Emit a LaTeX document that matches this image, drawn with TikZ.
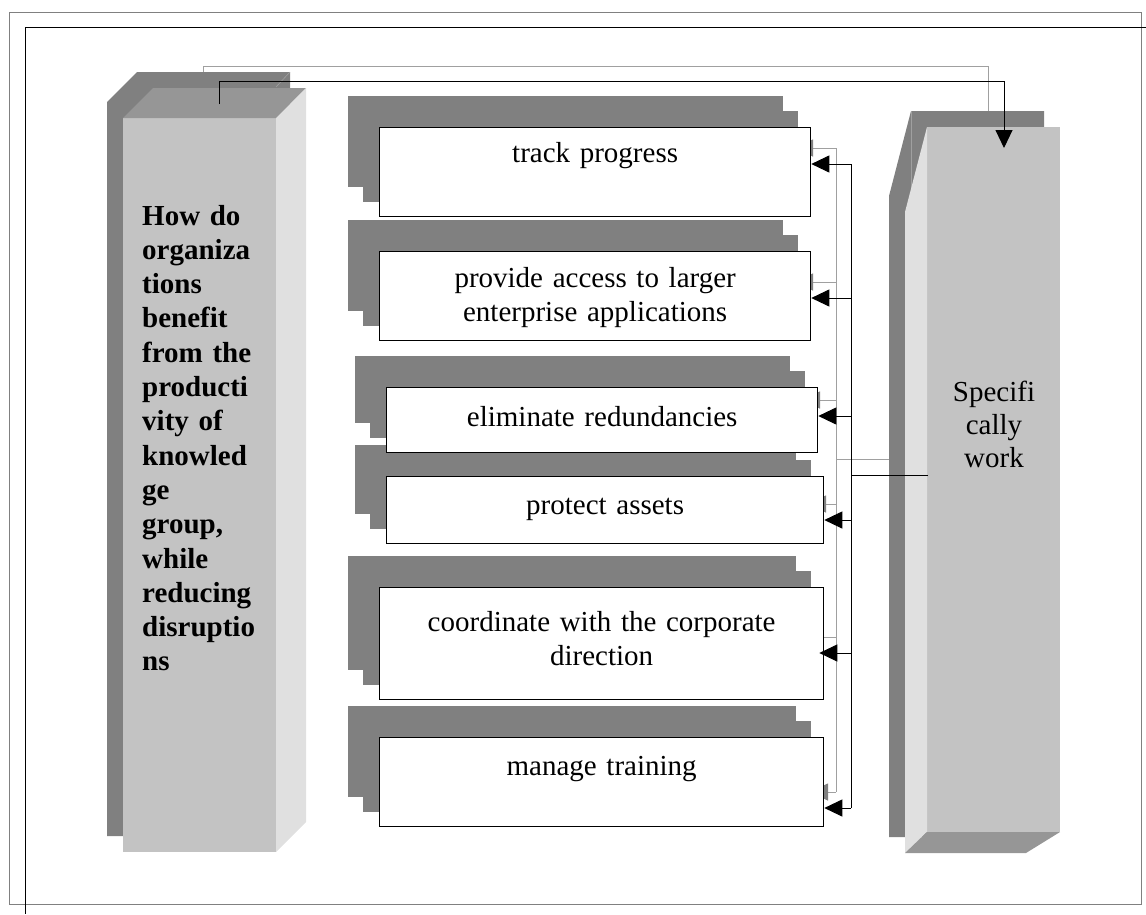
\documentclass[tikz,border=0pt]{standalone}
\usepackage{fontspec}
\setmainfont{Liberation Serif}
\usetikzlibrary{arrows.meta,calc,backgrounds}
\definecolor{dk}{HTML}{808080}
\definecolor{fr}{HTML}{C3C3C3}
\definecolor{tp}{HTML}{969696}
\definecolor{sd}{HTML}{E0E0E0}
\definecolor{gl}{HTML}{A0A0A0}
\begin{document}
\begin{tikzpicture}[x=1pt,y=-1pt,
  box/.style={draw, line width=1.3pt, fill=white, inner sep=0pt, anchor=north west},
  btext/.style={font=\fontsize{29}{34}\selectfont, align=center, text width=430pt, inner sep=0pt, anchor=base},
  conn/.style={line width=1pt, black},
  gconn/.style={line width=1pt, gl},
  tip/.style={-{Triangle[length=18pt,width=17pt]}},
  gtip/.style={-{Triangle[length=18pt,width=17pt,color=dk]}}
]
\useasboundingbox (0,0) rectangle (1146,914);
% frames
\draw[dk, line width=1pt] (9,12) rectangle (1141,904);
\draw[black, line width=1pt] (1146,27) -- (25,27) -- (25,914);

% gray shadow connectors
\draw[gconn] (203,72) -- (203,66) -- (988,66) -- (988,111);
\draw[gconn] (836,148) -- (836,792);
\draw[gconn] (889,459) -- (836,459);
\draw[gconn,gtip] (836,148) -- (795,148);
\draw[gconn,gtip] (836,282) -- (795,282);
\draw[gconn,gtip] (836,400) -- (802,400);
\draw[gconn,gtip] (836,504) -- (808,504);
\draw[gconn,gtip] (836,637) -- (803,637);
\draw[gconn,gtip] (836,792) -- (810,792);

% left pillar
\fill[dk] (107,102) -- (137,72) -- (290,72) -- (290,806) -- (260,836) -- (107,836) -- cycle;
\draw[gl, line width=0.6pt] (290,72) -- (276,87);
\fill[fr] (123,118) rectangle (276,852);
\fill[tp] (123,118) -- (153,88) -- (306,88) -- (276,118) -- cycle;
\fill[sd] (276,118) -- (306,88) -- (306,822) -- (276,852) -- cycle;
\node[font=\fontsize{29}{34.3}\selectfont\bfseries, align=left, text width=150pt, inner sep=0pt, anchor=base west] (q) at (142,225)
 {How do\\organiza\\tions\\benefit\\from the\\producti\\vity of\\knowled\\ge\\group,\\while\\reducing\\disruptio\\ns};

% right pillar
\fill[dk] (911,111) -- (1044,111) -- (1044,816) -- (1010,837) -- (889,837) -- (889,196) -- cycle;
\draw[gl, line width=0.6pt] (911,111) -- (911,196);
\fill[fr] (927,127) rectangle (1060,832);
\fill[sd] (927,127) -- (905,212) -- (905,853) -- (927,832) -- cycle;
\fill[tp] (905,853) -- (927,832) -- (1060,832) -- (1026,853) -- cycle;
\node[font=\fontsize{29}{33}\selectfont, align=center, text width=120pt, inner sep=0pt, anchor=base] (s) at (994,401)
 {Specifi\\cally\\work};

% boxes
\node[box, minimum width=431pt, minimum height=89pt] (b1) at (379,127) {};
\node[box, minimum width=431pt, minimum height=89pt] (b2) at (379,251) {};
\node[box, minimum width=431pt, minimum height=65pt] (b3) at (386,387) {};
\node[box, minimum width=437pt, minimum height=67pt] (b4) at (386,476) {};
\node[box, minimum width=444pt, minimum height=112pt] (b5) at (379,587) {};
\node[box, minimum width=444pt, minimum height=89pt] (b6) at (379,737) {};
\begin{scope}[on background layer]
\foreach \b in {b1,b2,b3,b4,b5,b6} {
  \fill[dk] ($(\b.north west)+(-31,-31)$) rectangle ($(\b.south east)+(-28,-30)$);
  \fill[dk] ($(\b.north west)+(-16,-16)$) rectangle ($(\b.south east)+(-13,-15)$);
}
\end{scope}
\node[btext] (t1) at ($(b1.north)+(0,35)$) {track progress};
\node[btext] (t2) at ($(b2.north)+(0,36)$) {provide access to larger\\enterprise applications};
\node[btext] (t3) at ($(b3.north)+(0,39)$) {eliminate redundancies};
\node[btext] (t4) at ($(b4.north)+(0,38)$) {protect assets};
\node[btext] (t5) at ($(b5.north)+(0,44)$) {coordinate with the corporate\\direction};
\node[btext] (t6) at ($(b6.north)+(0,38)$) {manage training};

% black connectors
\coordinate (lt) at (219,104);
\coordinate (rt) at (1004,148);
\draw[conn,tip] (lt) -- ++(0,-23) -| (rt);
\coordinate (feed) at (928,475);
\coordinate (jf) at (851,475);
\coordinate (j1) at (851,164);
\coordinate (j2) at (851,298);
\coordinate (j3) at (851,416);
\coordinate (j4) at (851,520);
\coordinate (j5) at (851,653);
\coordinate (j6) at (851,808);
\draw[conn] (feed) -- (jf);
\draw[conn] (j1) -- (j6);
\draw[conn,tip] (j1) -- (j1 -| b1.east);
\draw[conn,tip] (j2) -- (j2 -| b2.east);
\draw[conn,tip] (j3) -- (j3 -| b3.east);
\draw[conn,tip] (j4) -- (j4 -| b4.east);
\draw[conn,tip] ($(j5)$) -- ($(j5 -| b5.east)+(-5,0)$);
\draw[conn,tip] (j6) -- (j6 -| b6.east);
\end{tikzpicture}
\end{document}
